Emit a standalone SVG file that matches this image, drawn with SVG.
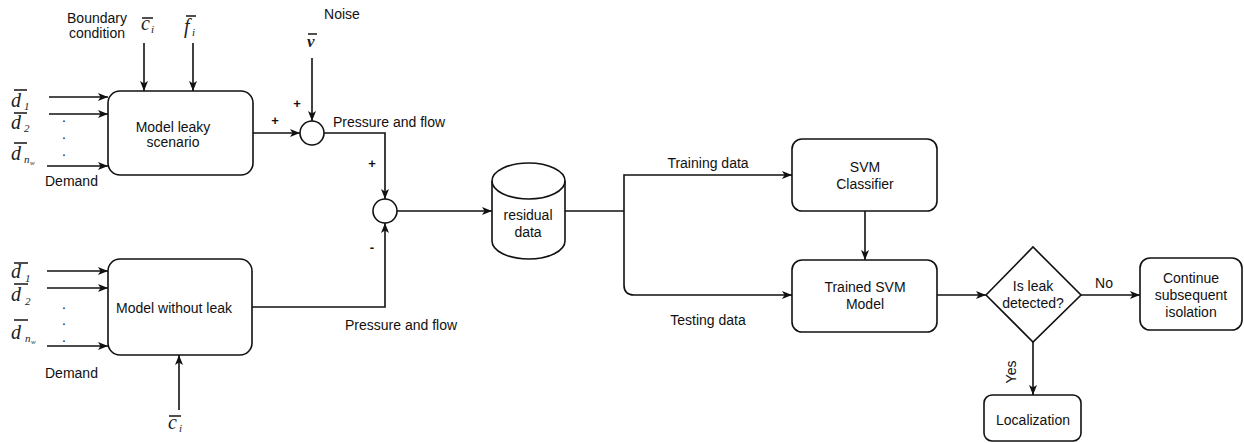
<svg xmlns="http://www.w3.org/2000/svg" width="1244" height="443" viewBox="0 0 1244 443">
<defs>
<marker id="ah" viewBox="0 0 10 8" refX="10" refY="4" markerWidth="10" markerHeight="8" markerUnits="userSpaceOnUse" orient="auto">
<path d="M0,0 L10,4 L0,8 L2.5,4 Z" fill="#111"/>
</marker>
<style>
.t{font-family:"Liberation Sans",Arial,sans-serif;font-size:14px;fill:#111}
.c{text-anchor:middle}
.p{font-weight:bold;font-size:13px}
.m{font-family:"Liberation Serif","Times New Roman",serif;font-style:italic;font-size:20px;fill:#222}
.s{font-family:"Liberation Serif","Times New Roman",serif;font-style:italic;font-size:11px;fill:#222}
.ss{font-family:"Liberation Serif","Times New Roman",serif;font-style:italic;font-size:7px;fill:#222}
.bar{stroke:#222;stroke-width:1.6}
.box{fill:#fff;stroke:#111;stroke-width:1.6}
.ln{fill:none;stroke:#111;stroke-width:1.6}
.a{marker-end:url(#ah)}
</style>
</defs>
<rect width="1244" height="443" fill="#fff"/>

<g id="labels-left">
<text class="t c" x="97" y="23">Boundary</text>
<text class="t c" x="97" y="38">condition</text>
<text class="t c" x="342" y="19">Noise</text>
<text class="t" x="45" y="186">Demand</text>
<text class="t" x="45" y="378">Demand</text>
<text class="t" x="333" y="127">Pressure and flow</text>
<text class="t" x="345" y="330">Pressure and flow</text>
<text class="t c p" x="275" y="125">+</text>
<text class="t c p" x="297" y="108">+</text>
<text class="t c p" x="372" y="168">+</text>
<text class="t c p" x="372" y="252">-</text>
</g>

<g id="math">
<line class="bar" x1="14" y1="90" x2="27" y2="90"/><text class="m" x="11" y="107">d</text><text class="s" x="24" y="110">1</text>
<line class="bar" x1="14" y1="113" x2="27" y2="113"/><text class="m" x="11" y="129">d</text><text class="s" x="24" y="132">2</text>
<line class="bar" x1="14" y1="143" x2="27" y2="143"/><text class="m" x="11" y="160">d</text><text class="s" x="24" y="163">n</text><text class="ss" x="30" y="165">w</text>
<line class="bar" x1="14" y1="263" x2="28" y2="263"/><text class="m" x="11" y="278">d</text><text class="s" x="25" y="282">1</text>
<line class="bar" x1="14" y1="284" x2="28" y2="284"/><text class="m" x="11" y="301">d</text><text class="s" x="25" y="305">2</text>
<line class="bar" x1="14" y1="320" x2="28" y2="320"/><text class="m" x="11" y="339">d</text><text class="s" x="25" y="342">n</text><text class="ss" x="31" y="344">w</text>
<text class="t c" x="64" y="122">.</text><text class="t c" x="64" y="139">.</text><text class="t c" x="64" y="156">.</text>
<text class="t c" x="64" y="309">.</text><text class="t c" x="64" y="325">.</text><text class="t c" x="64" y="342">.</text>
<line class="bar" x1="142" y1="18" x2="153" y2="18"/><text class="m" x="141" y="30">c</text><text class="s" x="151" y="33">i</text>
<line class="bar" x1="186" y1="16" x2="196" y2="16"/><text class="m" x="184" y="33">f</text><text class="s" x="192" y="36">i</text>
<line class="bar" x1="308" y1="34" x2="317" y2="34"/><text class="m" x="307" y="47" style="font-weight:bold;font-size:17px">v</text>
<line class="bar" x1="169" y1="416" x2="181" y2="416"/><text class="m" x="168" y="429">c</text><text class="s" x="179" y="432">i</text>
</g>

<g id="connectors">
<path class="ln a" d="M49,97 H108"/>
<path class="ln a" d="M49,114 H108"/>
<path class="ln a" d="M47,166 H108"/>
<path class="ln a" d="M47,271 H108"/>
<path class="ln a" d="M47,288 H108"/>
<path class="ln a" d="M47,346 H108"/>
<path class="ln a" d="M144,43 V91"/>
<path class="ln a" d="M193,43 V91"/>
<path class="ln a" d="M179,410 V355"/>
<path class="ln a" d="M253,133 H300"/>
<path class="ln a" d="M312,58 V121"/>
<path class="ln a" d="M324,133 H385 V199"/>
<path class="ln a" d="M252,307 H385 V223"/>
<path class="ln a" d="M397,211 H492"/>
<path class="ln" d="M565,211 H624"/>
<path class="ln a" d="M624,211 V175 H792"/>
<path class="ln a" d="M624,211 V285 Q624,295 634,295 H792"/>
<path class="ln a" d="M865,211 V260"/>
<path class="ln a" d="M937,295 H986"/>
<path class="ln a" d="M1081,295 H1140"/>
<path class="ln a" d="M1033,342 V395"/>
<text class="t c" x="708" y="168">Training data</text>
<text class="t c" x="708" y="325">Testing data</text>
<text class="t c" x="1104" y="288">No</text>
<text class="t c" transform="translate(1016,372) rotate(-90)">Yes</text>
</g>

<g id="leaky">
<rect class="box" x="108" y="91" width="145" height="84" rx="12"/>
<text class="t c" x="173" y="132">Model leaky</text>
<text class="t c" x="173" y="147">scenario</text>
</g>
<g id="noleak">
<rect class="box" x="108" y="259" width="144" height="96" rx="12"/>
<text class="t c" x="174" y="313">Model without leak</text>
</g>
<g id="sum1"><circle class="box" cx="312" cy="133" r="12"/></g>
<g id="sum2"><circle class="box" cx="385" cy="211" r="12"/></g>
<g id="residual">
<path class="box" d="M492,181 A36.5,18 0 0 1 565,181 V241 A36.5,18 0 0 1 492,241 Z"/>
<path class="ln" d="M492,181 A36.5,18 0 0 0 565,181"/>
<text class="t c" x="528" y="220">residual</text>
<text class="t c" x="528" y="237">data</text>
</g>
<g id="svm">
<rect class="box" x="792" y="139" width="145" height="72" rx="10"/>
<text class="t c" x="865" y="172">SVM</text>
<text class="t c" x="865" y="189">Classifier</text>
</g>
<g id="trained">
<rect class="box" x="792" y="260" width="145" height="72" rx="10"/>
<text class="t c" x="865" y="292">Trained SVM</text>
<text class="t c" x="865" y="309">Model</text>
</g>
<g id="decision">
<path class="box" d="M986,295 L1033,247 L1081,295 L1033,342 Z"/>
<text class="t c" x="1033" y="291">Is leak</text>
<text class="t c" x="1033" y="308">detected?</text>
</g>
<g id="continue">
<rect class="box" x="1140" y="258" width="102" height="72" rx="10"/>
<text class="t c" x="1191" y="283">Continue</text>
<text class="t c" x="1191" y="300">subsequent</text>
<text class="t c" x="1191" y="317">isolation</text>
</g>
<g id="localization">
<rect class="box" x="984" y="395" width="97" height="46" rx="8"/>
<text class="t c" x="1033" y="425">Localization</text>
</g>
</svg>
